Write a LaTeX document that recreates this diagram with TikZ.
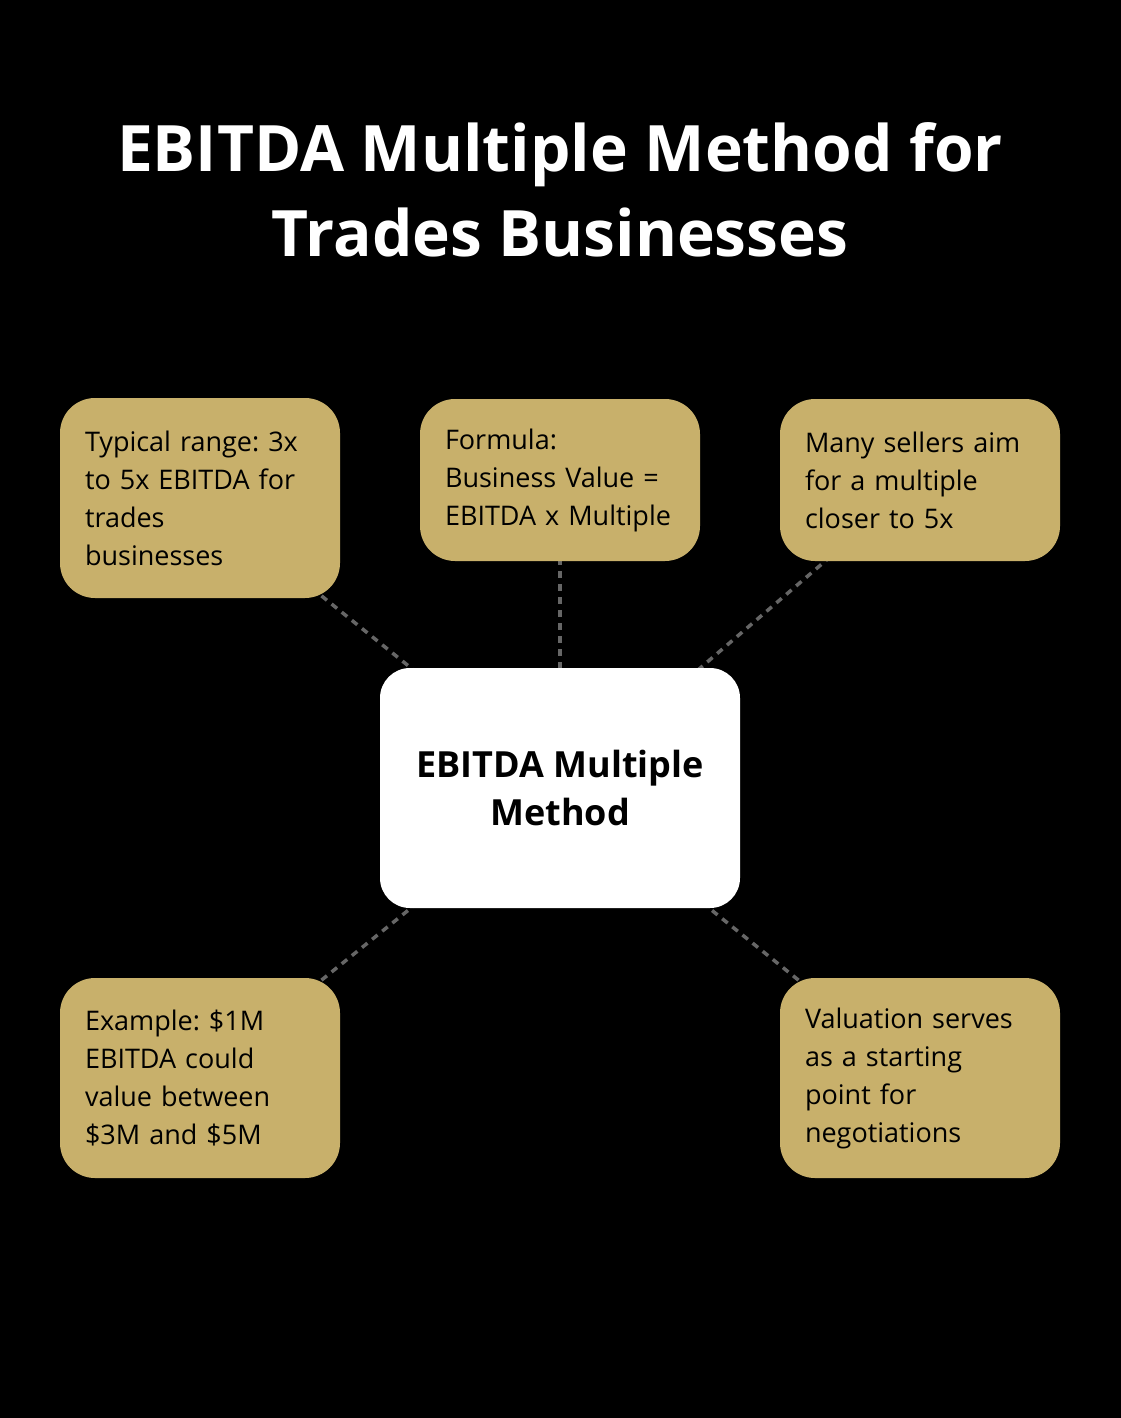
\documentclass[tikz,border=0pt]{standalone}
\usepackage{fontspec}
\setmainfont{Open Sans}
\usetikzlibrary{backgrounds}
\definecolor{gold}{HTML}{C8B06B}
\definecolor{conncol}{HTML}{666666}
\frenchspacing
\tikzset{
  infobox/.style={fill=gold, rounded corners=35pt, minimum width=280pt, text width=230pt, inner xsep=25pt, inner ysep=0pt, align=left, text=black, font=\fontsize{27}{38}\selectfont},
  hubbox/.style={fill=white, rounded corners=30pt, minimum width=360pt, minimum height=240pt, align=center, text=black, font=\fontsize{36}{48}\selectfont\bfseries},
  conn/.style={draw=conncol, line width=3.5pt, dash pattern=on 7pt off 6pt},
  titletext/.style={text=white, align=center, font=\fontsize{64}{85}\selectfont\bfseries}
}
\begin{document}
\begin{tikzpicture}[x=1pt,y=-1pt]
\useasboundingbox (0,0) rectangle (1120,1418);
\begin{scope}[on background layer]
\fill[black] (-3,-3) rectangle (1123,1421);
\end{scope}
\node[titletext] (title) at (560,190) {EBITDA Multiple Method for\\Trades Businesses};
\node[hubbox] (c) at (560,788) {EBITDA Multiple\\Method};
\node[infobox, minimum height=200pt] (tl) at (200,498) {Typical range: 3x\\to 5x EBITDA for\\trades\\businesses};
\node[infobox, minimum height=162pt] (tm) at (560,480) {Formula:\\Business Value =\\EBITDA x Multiple};
\node[infobox, minimum height=162pt] (tr) at (920,480) {Many sellers aim\\for a multiple\\closer to 5x};
\node[infobox, minimum height=200pt] (bl) at (200,1078) {Example: \$1M\\EBITDA could\\value between\\\$3M and \$5M};
\node[infobox, minimum height=200pt] (br) at (920,1078) {Valuation serves\\as a starting\\point for\\negotiations};
\begin{scope}[on background layer]
\draw[conn] (tl.center) -- (c.center);
\draw[conn] (tm.center) -- (c.center);
\draw[conn] (tr.center) -- (c.center);
\draw[conn] (bl.center) -- (c.center);
\draw[conn] (br.center) -- (c.center);
\end{scope}
\end{tikzpicture}
\end{document}
